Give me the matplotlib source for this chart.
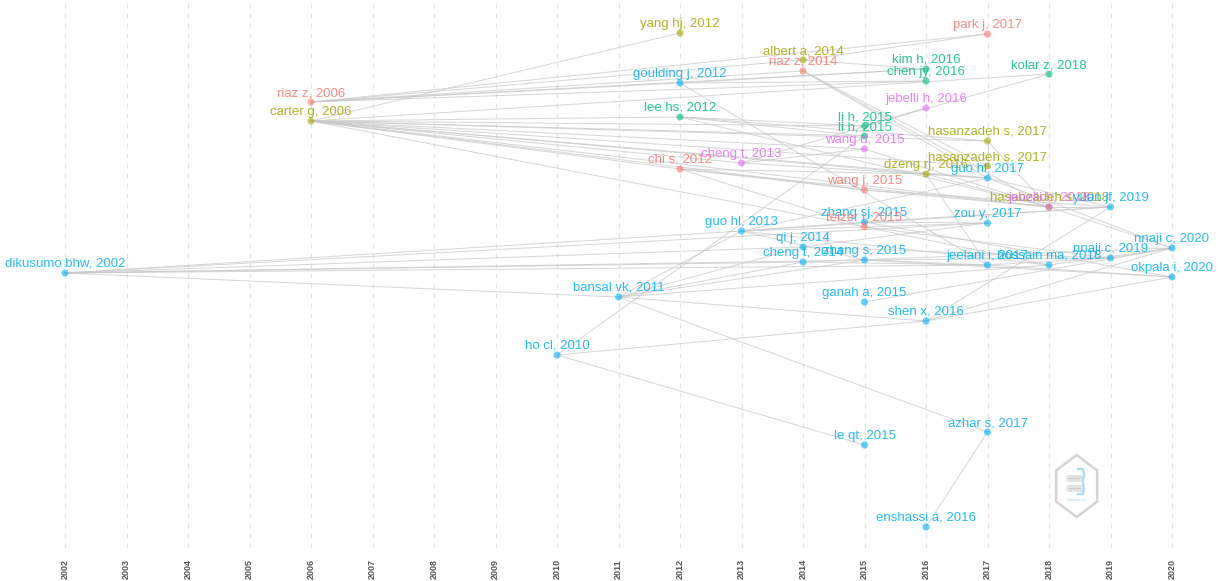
import matplotlib
matplotlib.use("Agg")
import matplotlib.pyplot as plt
from matplotlib.patches import Polygon
import numpy as np

# ---------------- data ----------------
labels = [
    "dikusumo bhw, 2002", "riaz z, 2006", "carter g, 2006", "ho cl, 2010", "bansal vk, 2011",
    "yang hj, 2012", "goulding j, 2012", "lee hs, 2012", "chi s, 2012", "cheng t, 2013",
    "guo hl, 2013", "albert a, 2014", "riaz z, 2014", "qi j, 2014", "cheng t, 2014",
    "li h, 2015", "li h, 2015", "wang d, 2015", "wang j, 2015", "zhang sj, 2015",
    "teizer j, 2015", "zhang s, 2015", "ganah a, 2015", "le qt, 2015", "kim h, 2016",
    "chen jy, 2016", "jebelli h, 2016", "dzeng rj, 2016", "shen x, 2016", "enshassi a, 2016",
    "park j, 2017", "hasanzadeh s, 2017", "hasanzadeh s, 2017", "guo hl, 2017", "zou y, 2017",
    "jeelani i, 2017", "azhar s, 2017", "kolar z, 2018", "hasanzadeh s, 2018", "jebelli h, 2018",
    "hossain ma, 2018", "yuan jf, 2019", "nnaji c, 2019", "nnaji c, 2020", "okpala i, 2020",
]
years = [
    2002, 2006, 2006, 2010, 2011,
    2012, 2012, 2012, 2012, 2013,
    2013, 2014, 2014, 2014, 2014,
    2015, 2015, 2015, 2015, 2015,
    2015, 2015, 2015, 2015, 2016,
    2016, 2016, 2016, 2016, 2016,
    2017, 2017, 2017, 2017, 2017,
    2017, 2017, 2018, 2018, 2018,
    2018, 2019, 2019, 2020, 2020,
]
# vertical layout position of each node (historiograph layout coordinate)
layout_y = [
    273, 102, 121, 355, 297,
    33, 83, 117, 169, 163,
    231, 60, 71, 247, 262,
    126, 136, 149, 190, 222,
    227, 260, 302, 445, 69,
    81, 108, 174, 321, 527,
    34, 141, 166, 178, 223,
    265, 432, 74, 207, 207,
    265, 207, 258, 248, 277,
]
cluster = [
    "c4", "c1", "c2", "c4", "c4",
    "c2", "c4", "c3", "c1", "c5",
    "c4", "c2", "c1", "c4", "c4",
    "c3", "c3", "c5", "c1", "c4",
    "c1", "c4", "c4", "c4", "c3",
    "c3", "c5", "c2", "c4", "c4",
    "c1", "c2", "c2", "c4", "c4",
    "c4", "c4", "c3", "c2", "c5",
    "c4", "c4", "c4", "c4", "c4",
]
# citation links (citing node index, cited node index)
links = [
    (6, 1), (11, 1), (24, 1), (25, 1), (30, 1), (12, 1),
    (5, 2), (7, 2), (15, 2), (16, 2), (17, 2), (31, 2), (27, 2), (18, 2), (8, 2),
    (9, 2), (33, 2), (38, 2), (20, 2), (37, 2), (32, 2),
    (10, 0), (4, 0), (21, 0), (35, 0), (14, 0), (34, 0), (13, 0),
    (23, 3), (28, 3), (16, 3),
    (36, 4), (28, 4), (10, 4), (13, 4), (14, 4), (21, 4), (40, 4),
    (29, 36), (43, 22), (44, 28), (43, 28),
    (24, 6), (25, 6), (35, 6),
    (15, 7), (16, 7), (31, 7), (39, 7),
    (18, 8), (27, 8), (38, 8), (20, 8),
    (17, 9), (26, 9), (33, 9),
    (19, 10), (21, 10), (34, 10), (33, 10), (40, 10), (41, 10),
    (30, 11), (24, 11),
    (32, 12), (33, 12), (38, 12),
    (34, 13), (42, 13),
    (35, 14), (43, 14),
    (37, 15), (26, 15),
    (39, 17),
    (38, 18), (41, 18),
    (34, 19), (41, 19), (44, 19),
    (42, 20), (40, 20),
    (35, 21), (42, 21), (44, 21),
    (33, 27), (38, 27), (35, 27),
    (41, 33), (43, 33),
    (38, 31), (32, 31),
    (43, 38), (41, 38),
    (42, 35), (44, 35),
    (43, 40), (41, 28), (43, 42),
]
year_ticks = list(range(2002, 2021))

palette = {"c1": "#F8766D", "c2": "#A3A500", "c3": "#00BF7D",
           "c4": "#00B0F6", "c5": "#E76BF3"}

# ---------------- figure ----------------
plt.rcParams['font.family'] = ['Liberation Sans', 'DejaVu Sans']
fig = plt.figure(figsize=(12.21, 5.81), dpi=100)
ax = fig.add_axes([0, 33 / 581, 1, 548 / 581])
ax.set_xlim(2002 - 65 / 61.5, 2020 + 49 / 61.5)
ax.set_ylim(548, 0)

for t in year_ticks:
    ax.axvline(t, color="#e3e3e3", lw=0.9, ls=(0, (4, 4)), zorder=0)

for a, b in links:
    ax.plot([years[a], years[b]], [layout_y[a], layout_y[b]],
            color="#c8c8c8", lw=0.7, alpha=0.75, zorder=1)

cols = [palette[c] for c in cluster]
ax.scatter(years, layout_y, s=26, c=cols, alpha=0.6, linewidths=0, zorder=2)
for x, y, lab, c in zip(years, layout_y, labels, cols):
    ax.text(x, y - 9, lab, color=c, fontsize=9.5, ha="center", va="center",
            alpha=0.85, zorder=3)

ax.set_xticks(year_ticks)
ax.set_xticklabels([str(t) for t in year_ticks], rotation=90, fontsize=6.5,
                   fontweight="bold", color="#555555")
ax.tick_params(axis="x", length=0, pad=8)
ax.set_yticks([])
for s in ax.spines.values():
    s.set_visible(False)

# watermark logo (hexagon badge)
xc, yc = 2018.45, 486
ang = np.deg2rad(np.arange(6) * 60 + 90)
hex_pts = [(xc + 0.385 * np.cos(a), yc - 31 * np.sin(a)) for a in ang]
ax.add_patch(Polygon(hex_pts, closed=True, fill=False, ec="#d4d4d4", lw=1.8, zorder=1))
for dy in (-8, 2):
    ax.plot([xc - 0.12, xc + 0.06], [yc + dy, yc + dy], color="#e2e2e2",
            lw=5, solid_capstyle="round", zorder=1)
    ax.plot([xc - 0.12, xc + 0.06], [yc + dy, yc + dy], color="#c8c8c8",
            lw=0.6, zorder=1)
ax.plot([xc + 0.02, xc + 0.1, xc + 0.12, xc + 0.1, xc + 0.12, xc + 0.1, xc + 0.02],
        [yc - 17, yc - 17, yc - 12, yc - 4, yc + 3, yc + 8, yc + 8],
        color="#a8ddf5", lw=1.6, zorder=1)
ax.text(xc, yc + 14, "bibliometrix", fontsize=3, color="#a8ddf5", ha="center", va="center")

fig.savefig("out.png", dpi=100)
